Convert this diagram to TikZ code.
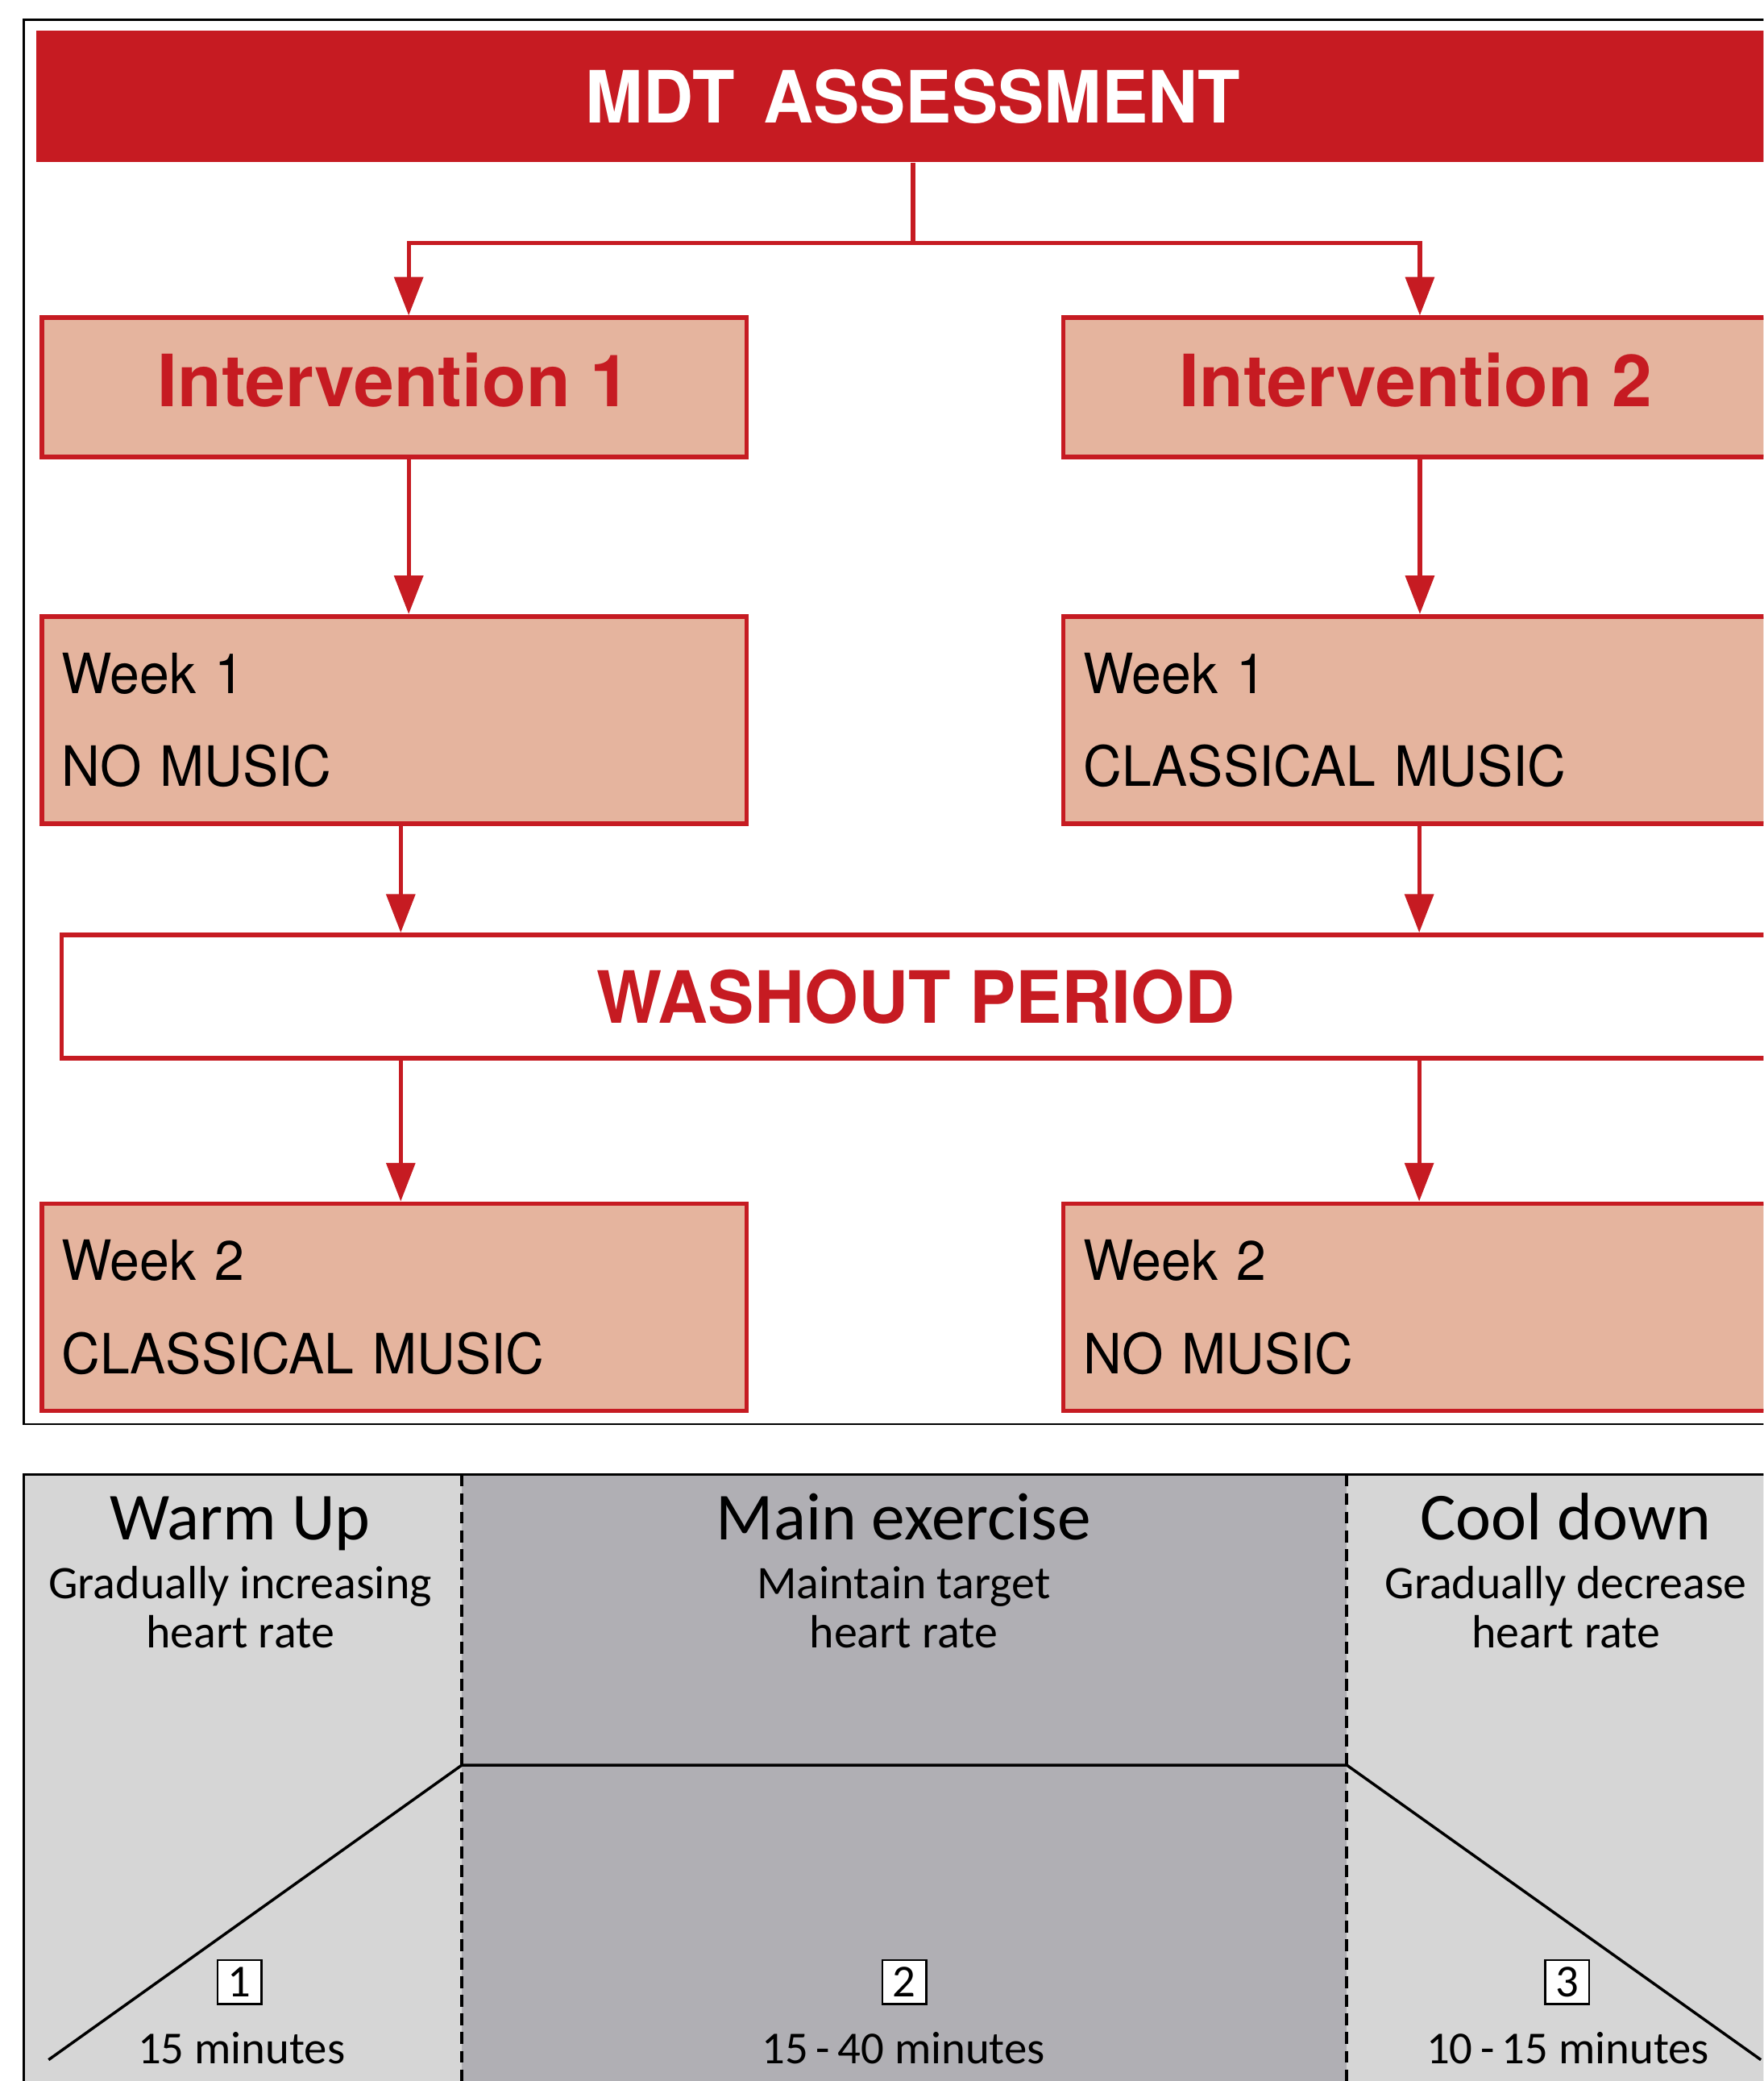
\documentclass[tikz,border=0pt]{standalone}
\usepackage{fontspec}
\newfontfamily\gothic[FakeStretch=0.96]{TeX Gyre Heros}
\newfontfamily\gothicwide{TeX Gyre Heros}
\newfontfamily\panelfont{Carlito}
\usetikzlibrary{arrows.meta}
\definecolor{mdtred}{RGB}{198,27,34}
\definecolor{salmon}{RGB}{229,180,158}
\definecolor{lightgrey}{RGB}{214,214,214}
\definecolor{midgrey}{RGB}{176,175,180}

\begin{document}
\begin{tikzpicture}[x=0.01cm, y=-0.01cm,
	banner/.style={fill=mdtred, text=white, font=\gothic\bfseries\fontsize{15.45pt}{18pt}\selectfont, minimum width=13.2cm, minimum height=0.99cm, inner sep=0pt},
	arm/.style={draw=mdtred, line width=1pt, fill=salmon, text=mdtred, font=\gothicwide\bfseries\fontsize{15.45pt}{18pt}\selectfont, minimum width=5.31cm, minimum height=1.05cm, inner sep=0pt, text height=0.39cm, text depth=0.1cm},
	week/.style={draw=mdtred, line width=1pt, fill=salmon, font=\gothic\fontsize{11.9pt}{19.9pt}\selectfont, text width=5.01cm, align=left, inner xsep=0.15cm, inner ysep=0pt, minimum height=1.56cm},
	washbox/.style={draw=mdtred, line width=1pt, fill=white, text=mdtred, font=\gothic\bfseries\fontsize{15.45pt}{18pt}\selectfont, minimum width=12.87cm, minimum height=0.93cm, inner sep=0pt},
	flow/.style={draw=mdtred, line width=0.9pt, -{Triangle[length=2.9mm, width=2.15mm]}},
	phase/.style={anchor=base, inner sep=0pt, font=\panelfont\fontsize{14.4pt}{16pt}\selectfont},
	phasenote/.style={anchor=base, align=center, inner sep=0pt, font=\panelfont\fontsize{10pt}{10.53pt}\selectfont},
	stage/.style={draw, line width=0.45pt, fill=white, minimum size=0.33cm, inner sep=0pt, font=\panelfont\fontsize{9.8pt}{11pt}\selectfont},
	duration/.style={anchor=base, inner sep=0pt, font=\panelfont\fontsize{9.8pt}{11pt}\selectfont}]

	\useasboundingbox (0,0) rectangle (1329,1568);
	\clip (0,0) rectangle (1329,1568);

	\draw[line width=0.45pt] (18,15) rectangle (1360,1073);

	\node[banner] (header) at (688,72.5) {MDT\hspace{0.4em}ASSESSMENT};

	\node[arm] (int1) at (297,292) {Intervention 1};
	\node[arm] (int2) at (1067,292) {Intervention 2};

	\node[week] (week1l) at (297,542.5) {Week 1\\NO MUSIC};
	\node[week] (week1r) at (1067,542.5) {Week 1\\CLASSICAL MUSIC};

	\node[washbox] (washout) at (690.3,751) {WASHOUT PERIOD};

	\node[week] (week2l) at (297,985) {Week 2\\CLASSICAL MUSIC};
	\node[week] (week2r) at (1067,985) {Week 2\\NO MUSIC};

	\coordinate (split) at (688,183);
	\draw[flow] (header.south) -- (split) -| ([xshift=1.1mm]int1.north);
	\draw[flow] (split) -| ([xshift=0.3mm]int2.north);

	\draw[flow] ([xshift=1.1mm]int1.south) -- ([xshift=1.1mm]week1l.north);
	\draw[flow] ([xshift=0.3mm]int2.south) -- ([xshift=0.3mm]week1r.north);

	\draw[flow] ([xshift=0.5mm]week1l.south) -- ([xshift=0.5mm]week1l.south |- washout.north);
	\draw[flow] ([xshift=0.25mm]week1r.south) -- ([xshift=0.25mm]week1r.south |- washout.north);

	\draw[flow] ([xshift=0.5mm]week2l.north |- washout.south) -- ([xshift=0.5mm]week2l.north);
	\draw[flow] ([xshift=0.25mm]week2r.north |- washout.south) -- ([xshift=0.25mm]week2r.north);

	\fill[lightgrey] (18,1111) rectangle (348,1600);
	\fill[midgrey] (348,1111) rectangle (1015,1600);
	\fill[lightgrey] (1015,1111) rectangle (1345,1600);
	\draw[line width=0.45pt] (18,1600) -- (18,1111) -- (1345,1111) -- (1345,1600);
	\draw[line width=0.7pt, dash pattern=on 0.09cm off 0.05cm] (348,1111) -- (348,1600);
	\draw[line width=0.7pt, dash pattern=on 0.09cm off 0.05cm] (1015,1111) -- (1015,1600);
	\draw[line width=0.6pt] (36.6,1552) -- (348,1330) -- (1015,1330) -- (1327,1552);

	\node[phase] (warmup) at (181,1160) {Warm Up};
	\node[phase] (mainex) at (681,1160) {Main exercise};
	\node[phase] (cooldown) at (1180,1160) {Cool down};

	\node[phasenote] (warmupnote) at (181,1241.6) {Gradually increasing\\heart rate};
	\node[phasenote] (mainexnote) at (681,1241.6) {Maintain target\\heart rate};
	\node[phasenote] (cooldownnote) at (1180,1241.6) {Gradually decrease\\heart rate};

	\node[stage] (stage1) at (180.5,1493.5) {1};
	\node[stage] (stage2) at (681.5,1493.5) {2};
	\node[stage] (stage3) at (1181,1493.5) {3};

	\node[duration] (dur1) at (182,1554.7) {15 minutes};
	\node[duration] (dur2) at (681,1554.7) {15\,-\,40 minutes};
	\node[duration] (dur3) at (1181.5,1554.7) {10\,-\,15 minutes};

\end{tikzpicture}
\end{document}
